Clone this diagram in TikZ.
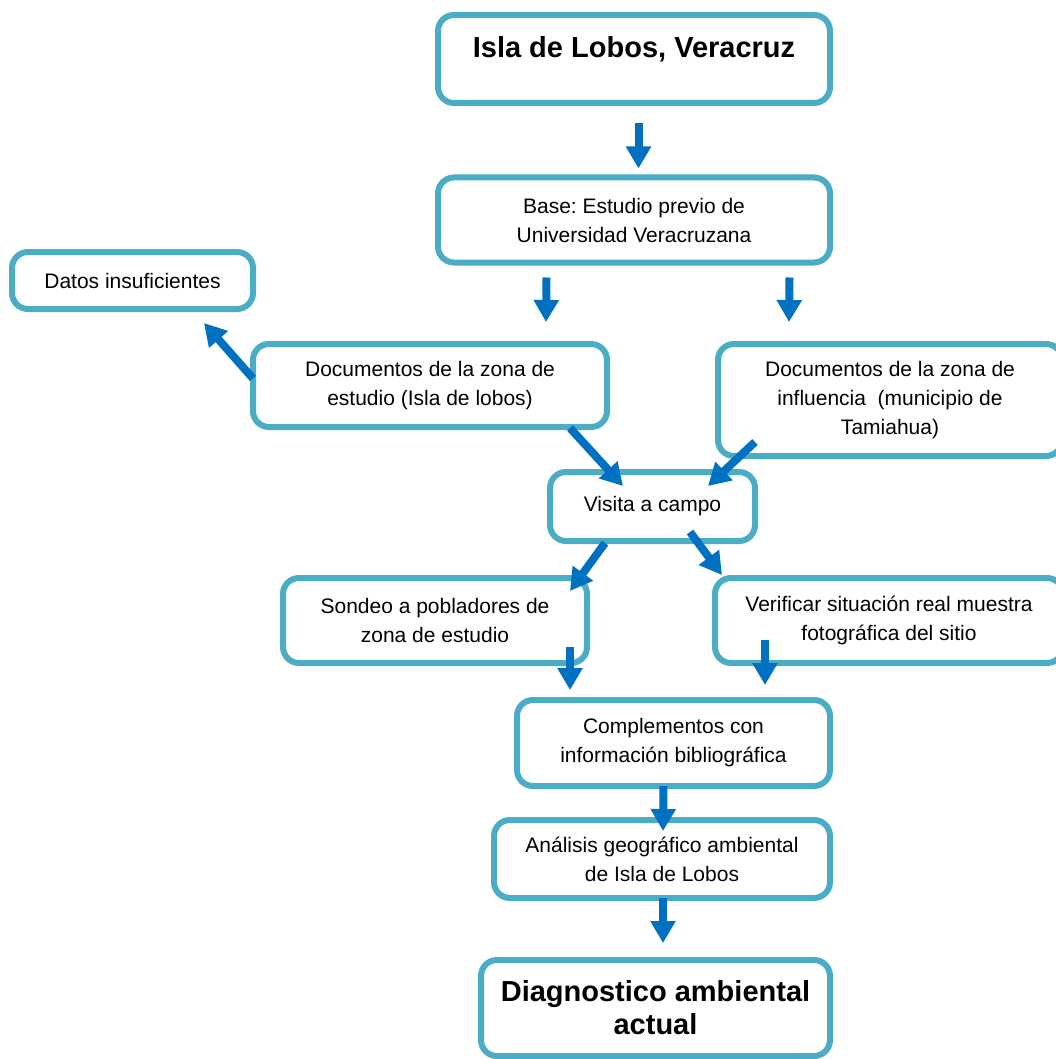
\documentclass[tikz,border=0pt]{standalone}
\usepackage{fontspec}
\setmainfont{Liberation Sans}
\usetikzlibrary{calc,arrows.meta}
\definecolor{boxblue}{HTML}{4BACC6}
\definecolor{arrowblue}{HTML}{0070C0}
\frenchspacing

\begin{document}
\begin{tikzpicture}[
    x=1pt,y=-1pt,
    step node/.style={
      draw=boxblue,
      line width=6pt,
      rounded corners=16pt,
      align=center,
      inner sep=0pt,
      outer sep=0pt,
      font=\fontsize{21}{29}\selectfont,
    },
    big node/.style={
      step node,
      font=\fontsize{29}{33}\selectfont\bfseries,
    },
    flow arrow/.style={
      draw=arrowblue,
      line width=8pt,
      -{Triangle[width=24pt,length=22pt]},
    },
    ]
    \clip (0,0) rectangle (1056,1059);
    % boxes
    \node[big node,minimum width=392,minimum height=88,text depth=25pt]
      (isla-title) at (634,59) {Isla de Lobos, Veracruz};
    \node[step node,minimum width=392,minimum height=85] (base-study) at (634,220)
      {Base: Estudio previo de\\Universidad Veracruzana};
    \node[step node,minimum width=241,minimum height=57] (datos-insuf) at (132.5,280.5)
      {Datos insuficientes};
    \node[step node,minimum width=354,minimum height=83] (docs-estudio) at (430,385.5)
      {Documentos de la zona de\\estudio (Isla de lobos)};
    \node[step node,minimum width=344,minimum height=112] (docs-influencia) at (890,400)
      {Documentos de la zona de\\influencia\ \ (municipio de\\Tamiahua)};
    \node[step node,minimum width=205,minimum height=69] (visita-campo) at (652.5,506.5)
      {Visita a campo};
    \node[step node,minimum width=304,minimum height=85] (sondeo) at (435,620.5)
      {Sondeo a pobladores de\\zona de estudio};
    \node[step node,minimum width=348,minimum height=85] (verificar) at (889,620.5)
      {Verificar situación real muestra\\fotográfica del sitio};
    \node[step node,minimum width=313,minimum height=86] (complementos) at (673.5,743)
      {Complementos con\\información bibliográfica};
    \node[step node,minimum width=336,minimum height=78] (analisis) at (662,859)
      {Análisis geográfico ambiental\\de Isla de Lobos};
    \node[big node,minimum width=349,minimum height=96] (diagnostico) at (655.5,1008)
      {Diagnostico ambiental\\actual};
    % arrows
    \path[flow arrow] ($(isla-title.south)+(4.5,20)$) -- ($(base-study.north)+(4.5,-9)$);
    \path[flow arrow] ($(base-study.south)+(-87.5,15)$) -- ($(docs-estudio.north)+(116,-22)$);
    \path[flow arrow] ($(base-study.south)+(155.5,15)$) -- ($(docs-influencia.north)+(-101,-22)$);
    \path[flow arrow] ($(docs-estudio.west)+(0,-7)$) -- ($(datos-insuf.south east)+(-49,14)$);
    \path[flow arrow] ($(docs-estudio.south east)+(-37,1)$) -- ($(visita-campo.north)+(-29.5,14)$);
    \path[flow arrow] ($(docs-influencia.south west)+(37,-14)$) -- ($(visita-campo.north)+(55.5,14)$);
    \path[flow arrow] ($(visita-campo.south)+(-47.5,2)$) -- ($(sondeo.north east)+(-17,13)$);
    \path[flow arrow] ($(visita-campo.south)+(37.5,-9)$) -- ($(verificar.north west)+(7,-3)$);
    \path[flow arrow] ($(sondeo.south east)+(-17,-16)$) -- ($(complementos.north)+(-103.5,-10)$);
    \path[flow arrow] ($(verificar.south west)+(50,-23)$) -- ($(complementos.north)+(91.5,-15)$);
    \path[flow arrow] ($(complementos.south)+(-10,0)$) -- ($(analisis.north)+(1,11)$);
    \path[flow arrow] ($(analisis.south)+(1,0)$) -- ($(diagnostico.north)+(7.5,-17)$);
\end{tikzpicture}
\end{document}
